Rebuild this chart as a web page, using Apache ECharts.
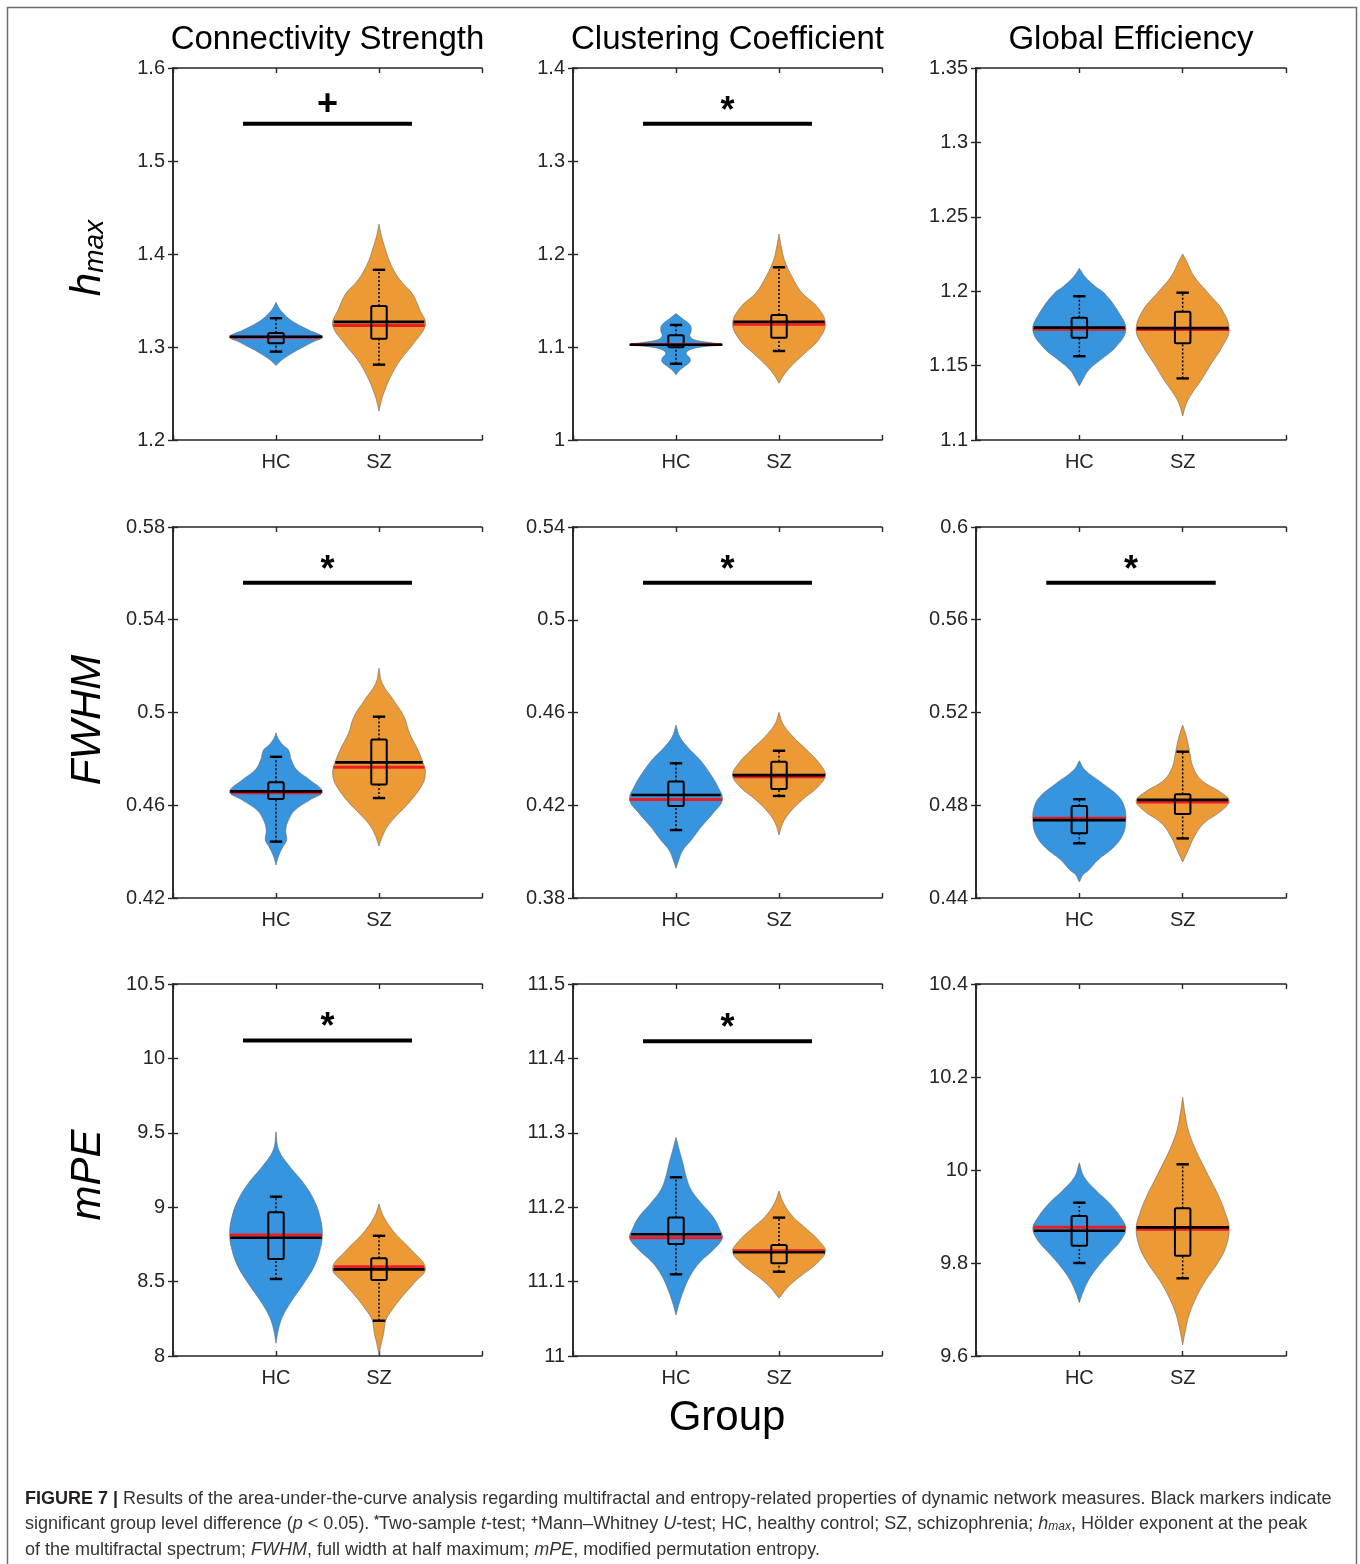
<!DOCTYPE html>
<html>
<head>
<meta charset="utf-8">
<script src="https://cdn.jsdelivr.net/npm/echarts@6.0.0/dist/echarts.min.js"></script>
<style>
html, body { margin: 0; padding: 0; background: #fff; }
#main { width: 1360px; height: 1564px; }
</style>
</head>
<body>
<div id="main"></div>
<script>
const groups = ['HC', 'SZ'];
const measures = ['Connectivity Strength', 'Clustering Coefficient', 'Global Efficiency'];

// y axis per panel (row by row)
const axisMin = [1.2, 1, 1.1, 0.42, 0.38, 0.44, 8, 11, 9.6];
const axisMax = [1.6, 1.4, 1.35, 0.58, 0.54, 0.6, 10.5, 11.5, 10.4];
const axisStep = [0.1, 0.1, 0.05, 0.04, 0.04, 0.04, 0.5, 0.1, 0.2];

// significance bars
const sigLevel = [1.54, 1.34, null, 0.556, 0.516, 0.576, 10.12, 11.423, null];
const sigMark = ['+', '*', '', '*', '*', '*', '*', '*', ''];

// violin outlines: [value, relative width]
const hmaxCS_HC = [[1.348,0],[1.343,0.05],[1.337,0.14],[1.330,0.29],[1.324,0.48],[1.318,0.72],[1.311,1],[1.305,0.78],[1.300,0.59],[1.295,0.4],[1.290,0.24],[1.285,0.1],[1.280,0]];
const hmaxCS_SZ = [[1.432,0],[1.420,0.05],[1.408,0.12],[1.393,0.22],[1.379,0.36],[1.368,0.52],[1.358,0.71],[1.340,0.88],[1.324,1],[1.304,0.75],[1.286,0.46],[1.268,0.25],[1.250,0.1],[1.240,0.04],[1.231,0]];
const hmaxCC_HC = [[1.136,0],[1.130,0.15],[1.124,0.3],[1.118,0.33],[1.112,0.3],[1.108,0.38],[1.105,0.7],[1.1025,1],[1.100,0.55],[1.097,0.3],[1.093,0.22],[1.088,0.3],[1.084,0.3],[1.079,0.18],[1.074,0.06],[1.070,0]];
const hmaxCC_SZ = [[1.2215,0],[1.205,0.06],[1.193,0.12],[1.1756,0.28],[1.158,0.5],[1.1434,0.82],[1.1255,1],[1.1075,0.85],[1.093,0.55],[1.0788,0.25],[1.068,0.08],[1.061,0]];
const hmaxGE_HC = [[1.2154,0],[1.2098,0.12],[1.203,0.35],[1.1986,0.54],[1.1851,0.86],[1.1739,1],[1.1627,0.79],[1.1537,0.45],[1.147,0.2],[1.1403,0.07],[1.1363,0]];
const hmaxGE_SZ = [[1.225,0],[1.221,0.07],[1.2098,0.25],[1.1986,0.55],[1.1874,0.85],[1.174,1],[1.1627,0.85],[1.1515,0.62],[1.1403,0.4],[1.1313,0.2],[1.1246,0.08],[1.1161,0]];
const fwhmCS_HC = [[0.4913,0],[0.4890,0.04],[0.4860,0.15],[0.4838,0.27],[0.4795,0.33],[0.4752,0.45],[0.4709,0.73],[0.4658,1],[0.4623,0.73],[0.4579,0.41],[0.4536,0.27],[0.4493,0.21],[0.4450,0.23],[0.4421,0.15],[0.4378,0.05],[0.4342,0]];
const fwhmCS_SZ = [[0.5191,0],[0.5126,0.07],[0.5054,0.31],[0.4982,0.54],[0.4910,0.66],[0.4838,0.84],[0.4766,0.98],[0.4738,1],[0.4695,0.95],[0.4623,0.7],[0.4551,0.36],[0.4508,0.18],[0.4464,0.07],[0.4424,0]];
const fwhmCC_HC = [[0.4546,0],[0.4496,0.08],[0.4453,0.24],[0.4395,0.52],[0.4338,0.73],[0.4281,0.9],[0.4223,1],[0.4166,0.8],[0.4108,0.55],[0.4050,0.33],[0.4007,0.15],[0.3964,0.06],[0.3928,0]];
const fwhmCC_SZ = [[0.4601,0],[0.4553,0.08],[0.4496,0.3],[0.4438,0.6],[0.4381,0.87],[0.4330,1],[0.4281,0.85],[0.4223,0.5],[0.4166,0.22],[0.4122,0.08],[0.4072,0]];
const fwhmGE_HC = [[0.4992,0],[0.4952,0.12],[0.4894,0.5],[0.4837,0.85],[0.4793,0.97],[0.4743,1],[0.4679,0.95],[0.4621,0.75],[0.4564,0.4],[0.4520,0.2],[0.4500,0.08],[0.4469,0]];
const fwhmGE_SZ = [[0.5146,0],[0.5096,0.08],[0.5031,0.15],[0.4966,0.22],[0.4909,0.4],[0.4858,0.8],[0.4819,1],[0.4779,0.85],[0.4721,0.45],[0.4664,0.25],[0.4607,0.12],[0.4555,0]];
const mpeCS_HC = [[9.507,0],[9.384,0.06],[9.272,0.3],[9.160,0.6],[9.048,0.82],[8.936,0.95],[8.824,1],[8.712,0.95],[8.600,0.82],[8.488,0.6],[8.376,0.35],[8.264,0.14],[8.175,0.05],[8.085,0]];
const mpeCS_SZ = [[9.0215,0],[8.936,0.1],[8.824,0.35],[8.712,0.7],[8.589,1],[8.488,0.75],[8.399,0.5],[8.309,0.28],[8.242,0.15],[8.152,0.1],[8.085,0.05],[8.007,0]];
const mpeCC_HC = [[11.294,0],[11.277,0.07],[11.259,0.15],[11.241,0.22],[11.223,0.33],[11.205,0.55],[11.187,0.8],[11.169,0.95],[11.158,1],[11.1425,0.8],[11.125,0.5],[11.107,0.3],[11.089,0.17],[11.071,0.07],[11.055,0]];
const mpeCC_SZ = [[11.2218,0],[11.2052,0.1],[11.1873,0.3],[11.1694,0.62],[11.1537,0.88],[11.1403,1],[11.1246,0.82],[11.1066,0.45],[11.0931,0.2],[11.0776,0]];
const mpeGE_HC = [[10.0157,0],[9.9856,0.1],[9.957,0.35],[9.9284,0.65],[9.8996,0.88],[9.8746,1],[9.8495,0.9],[9.8208,0.65],[9.7921,0.4],[9.7634,0.2],[9.7348,0.07],[9.7146,0]];
const mpeGE_SZ = [[10.1563,0],[10.1219,0.05],[10.086,0.12],[10.0501,0.25],[10.0143,0.42],[9.9785,0.6],[9.9426,0.78],[9.9068,0.92],[9.8746,1],[9.835,0.93],[9.7993,0.75],[9.7634,0.5],[9.7276,0.3],[9.6918,0.15],[9.656,0.06],[9.6237,0]];

// box stats per group: [lower whisker, q1, q3, upper whisker, mean, median]
const statsHmaxCS = [[1.295,1.304,1.315,1.331,1.311,1.3105],[1.281,1.309,1.344,1.383,1.327,1.323]];
const statsHmaxCC = [[1.082,1.0997,1.1126,1.1237,1.1025,1.1027],[1.0957,1.110,1.1344,1.1857,1.1272,1.1244]];
const statsHmaxGE = [[1.1563,1.1687,1.1822,1.1966,1.1755,1.1744],[1.1414,1.165,1.1862,1.199,1.1752,1.1742]];
const statsFwhmCS = [[0.4443,0.4627,0.4699,0.4809,0.466,0.4654],[0.4631,0.4689,0.4884,0.4982,0.4785,0.4764]];
const statsFwhmCC = [[0.4093,0.4197,0.4302,0.4381,0.4244,0.4225],[0.424,0.427,0.4388,0.4435,0.433,0.4323]];
const statsFwhmGE = [[0.4636,0.4679,0.4797,0.4826,0.4736,0.4744],[0.4657,0.4762,0.4847,0.5031,0.4823,0.4814]];
const statsMpeCS = [[8.5175,8.6519,8.9657,9.0707,8.7944,8.8125],[8.2372,8.5108,8.6566,8.8078,8.582,8.5998]];
const statsMpeCC = [[11.1098,11.1505,11.186,11.2402,11.1636,11.1591],[11.1133,11.1246,11.1492,11.186,11.1394,11.1416]];
const statsMpeGE = [[9.8,9.8372,9.9011,9.9297,9.8695,9.8767],[9.7671,9.8157,9.9176,10.0122,9.8767,9.8724]];

const shapes = [
  [hmaxCS_HC, hmaxCS_SZ], [hmaxCC_HC, hmaxCC_SZ], [hmaxGE_HC, hmaxGE_SZ],
  [fwhmCS_HC, fwhmCS_SZ], [fwhmCC_HC, fwhmCC_SZ], [fwhmGE_HC, fwhmGE_SZ],
  [mpeCS_HC, mpeCS_SZ], [mpeCC_HC, mpeCC_SZ], [mpeGE_HC, mpeGE_SZ]
];
const stats = [statsHmaxCS, statsHmaxCC, statsHmaxGE, statsFwhmCS, statsFwhmCC, statsFwhmGE, statsMpeCS, statsMpeCC, statsMpeGE];

const colLeft = [173, 573, 976];
const colWidth = [309, 309, 310];
const rowTop = [68, 527, 984];
const rowHeight = [372, 371, 372];

const FONT = '"Liberation Sans", Arial, Helvetica, sans-serif';
const AX = '#262626';
const colors = ['#3794de', '#eb9a35'];
const HALF = 0.45;

function widthAt(prof, v) {
  for (let i = 0; i < prof.length - 1; i++) {
    const a = prof[i], b = prof[i + 1];
    if (v <= a[0] && v >= b[0]) {
      const t = (a[0] - v) / (a[0] - b[0]);
      return a[1] + (b[1] - a[1]) * t;
    }
  }
  return 0;
}

function fmt(v) { return String(Math.round(v * 1000) / 1000); }

function seg(api, x1, y1, x2, y2, style) {
  const p1 = api.coord([x1, y1]), p2 = api.coord([x2, y2]);
  return { type: 'line', shape: { x1: p1[0], y1: p1[1], x2: p2[0], y2: p2[1] }, style: style };
}

function violinRender(k) {
  return function (params, api) {
    const i = params.dataIndex;
    const g = i + 1;
    const prof = shapes[k][i];
    const st = stats[k][i];
    const pts = [];
    prof.forEach(d => pts.push(api.coord([g + d[1] * HALF, d[0]])));
    prof.slice().reverse().forEach(d => pts.push(api.coord([g - d[1] * HALF, d[0]])));
    const ch = [];
    ch.push({ type: 'polygon', shape: { points: pts, smooth: 0.4 },
      style: { fill: colors[i], stroke: 'rgba(105,105,105,0.75)', lineWidth: 0.8 } });
    const wMed = widthAt(prof, st[5]) * HALF;
    ch.push(seg(api, g - wMed, st[5], g + wMed, st[5], { stroke: '#ec1c24', lineWidth: 3 }));
    const wMean = widthAt(prof, st[4]) * HALF;
    ch.push(seg(api, g - wMean, st[4], g + wMean, st[4], { stroke: '#000', lineWidth: 2.6 }));
    // whiskers
    const dot = { stroke: '#000', lineWidth: 1.5, lineDash: [2, 2] };
    ch.push(seg(api, g, st[2], g, st[3], dot));
    ch.push(seg(api, g, st[0], g, st[1], dot));
    const cap = { stroke: '#000', lineWidth: 2.4 };
    ch.push(seg(api, g - 0.06, st[3], g + 0.06, st[3], cap));
    ch.push(seg(api, g - 0.06, st[0], g + 0.06, st[0], cap));
    const tl = api.coord([g - 0.075, st[2]]), br = api.coord([g + 0.075, st[1]]);
    ch.push({ type: 'rect', shape: { x: tl[0], y: tl[1], width: br[0] - tl[0], height: br[1] - tl[1], r: 1.5 },
      style: { fill: 'none', stroke: '#000', lineWidth: 2 } });
    return { type: 'group', children: ch };
  };
}

function sigRender(k) {
  return function (params, api) {
    const lv = sigLevel[k];
    const p = api.coord([1.5, lv]);
    const off = sigMark[k] === '*' ? 12 : 19;
    return { type: 'group', children: [
      seg(api, 0.68, lv, 2.32, lv, { stroke: '#000', lineWidth: 4 }),
      { type: 'text', style: { text: sigMark[k], x: p[0], y: p[1] - off,
        align: 'center', textAlign: 'center', verticalAlign: 'middle', textVerticalAlign: 'middle',
        fontSize: 36, fontWeight: 'bold', fontFamily: FONT, fill: '#000' } }
    ] };
  };
}

const grids = [], xAxes = [], yAxes = [], series = [];
const axLine = { show: true, lineStyle: { color: AX, width: 1.6 } };
const axTick = { show: true, inside: true, length: 5, lineStyle: { color: AX, width: 1.4 } };

for (let k = 0; k < 9; k++) {
  const r = Math.floor(k / 3), c = k % 3;
  grids.push({ left: colLeft[c], top: rowTop[r], width: colWidth[c], height: rowHeight[r],
    containLabel: false, outerBoundsMode: 'none', show: false });
  xAxes.push({ gridIndex: k, type: 'value', min: 0, max: 3, interval: 1, position: 'bottom',
    axisLine: axLine, axisTick: axTick, splitLine: { show: false },
    axisLabel: { show: true, margin: 12, fontSize: 20, fontFamily: FONT, color: AX,
      formatter: v => v === 1 ? groups[0] : (v === 2 ? groups[1] : '') } });
  xAxes.push({ gridIndex: k, type: 'value', min: 0, max: 3, interval: 1, position: 'top',
    axisLine: axLine, axisTick: axTick, splitLine: { show: false }, axisLabel: { show: false } });
  yAxes.push({ gridIndex: k, type: 'value', min: axisMin[k], max: axisMax[k], interval: axisStep[k],
    position: 'left', axisLine: axLine, axisTick: axTick, splitLine: { show: false },
    axisLabel: { show: true, margin: 8, fontSize: 20, fontFamily: FONT, color: AX, formatter: fmt } });
  yAxes.push({ gridIndex: k, type: 'value', min: axisMin[k], max: axisMax[k], interval: axisStep[k],
    position: 'right', axisLine: axLine, axisTick: axTick, splitLine: { show: false }, axisLabel: { show: false } });

  series.push({ type: 'custom', xAxisIndex: 2 * k, yAxisIndex: 2 * k, clip: false,
    data: stats[k].map((s, i) => [i + 1, s[4]]), encode: { x: 0, y: 1 },
    renderItem: violinRender(k), silent: true, z: 2 });
  if (sigLevel[k] !== null) {
    series.push({ type: 'custom', xAxisIndex: 2 * k, yAxisIndex: 2 * k, clip: false,
      data: [[1.5, sigLevel[k]]], encode: { x: 0, y: 1 },
      renderItem: sigRender(k), silent: true, z: 3 });
  }
}

const graphics = [];
graphics.push({ type: 'rect', shape: { x: 7.5, y: 7.5, width: 1349, height: 1640 },
  style: { fill: 'none', stroke: '#6e6e6e', lineWidth: 1.5 }, z: -10 });
measures.forEach((m, c) => {
  graphics.push({ type: 'text', style: { text: m, x: colLeft[c] + colWidth[c] / 2, y: 40,
    align: 'center', textAlign: 'center', verticalAlign: 'middle', textVerticalAlign: 'middle',
    fontSize: 33, fontFamily: FONT, fill: '#000' } });
});
const rowLabelText = ['{i|h}{s|max}', '{i|FWHM}', '{i|mPE}'];
const rowLabelY = [258, 720, 1175];
rowLabelText.forEach((t, r) => {
  graphics.push({ type: 'text', x: 88, y: rowLabelY[r], rotation: Math.PI / 2,
    style: { text: t, align: 'center', textAlign: 'center', verticalAlign: 'middle', textVerticalAlign: 'middle',
      rich: {
        i: { fontSize: 42, fontStyle: 'italic', fontFamily: FONT, fill: '#000' },
        s: { fontSize: 28, fontStyle: 'italic', fontFamily: FONT, fill: '#000', verticalAlign: 'bottom' }
      } } });
});
graphics.push({ type: 'text', style: { text: 'Group', x: 727, y: 1418,
  align: 'center', textAlign: 'center', verticalAlign: 'middle', textVerticalAlign: 'middle',
  fontSize: 42, fontFamily: FONT, fill: '#000' } });

const captionLines = [
  '{b|FIGURE 7 |} Results of the area-under-the-curve analysis regarding multifractal and entropy-related properties of dynamic network measures. Black markers indicate',
  'significant group level difference ({i|p} < 0.05). {sup|*}Two-sample {i|t}-test; {sup|+}Mann–Whitney {i|U}-test; HC, healthy control; SZ, schizophrenia; {i|h}{sub|max}, Hölder exponent at the peak',
  'of the multifractal spectrum; {i|FWHM}, full width at half maximum; {i|mPE}, modified permutation entropy.'
];
const captionY = [1499, 1524, 1550];
const capRich = {
  b: { fontSize: 18, fontWeight: 'bold', fontFamily: FONT, fill: '#231f20' },
  i: { fontSize: 18, fontStyle: 'italic', fontFamily: FONT, fill: '#333' },
  sup: { fontSize: 12, fontWeight: 'bold', fontFamily: FONT, fill: '#333', verticalAlign: 'top' },
  sub: { fontSize: 12, fontStyle: 'italic', fontFamily: FONT, fill: '#333', verticalAlign: 'bottom' }
};
captionLines.forEach((t, j) => {
  graphics.push({ type: 'text', style: { text: t, x: 25, y: captionY[j],
    align: 'left', textAlign: 'left', verticalAlign: 'middle', textVerticalAlign: 'middle',
    fontSize: 18, fontFamily: FONT, fill: '#333', rich: capRich } });
});

const chart = echarts.init(document.getElementById('main'), null, { renderer: 'canvas' });
chart.setOption({
  backgroundColor: '#fff',
  animation: false,
  grid: grids,
  xAxis: xAxes,
  yAxis: yAxes,
  series: series,
  graphic: { elements: graphics }
});
</script>
</body>
</html>
